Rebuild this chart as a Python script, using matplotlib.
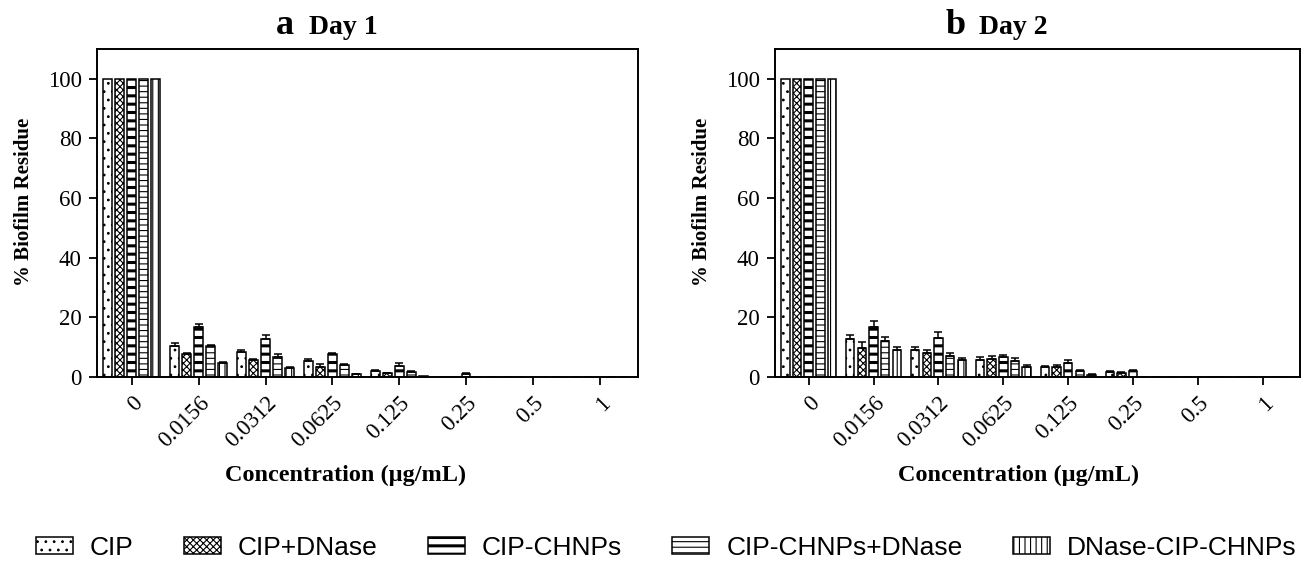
import matplotlib.pyplot as plt
from matplotlib.patches import Patch
import numpy as np

plt.rcParams["hatch.linewidth"] = 0.8

concentrations = ["0", "0.0156", "0.0312", "0.0625", "0.125", "0.25", "0.5", "1"]
groups = ["CIP", "CIP+DNase", "CIP-CHNPs", "CIP-CHNPs+DNase", "DNase-CIP-CHNPs"]

# Day 1 values (% biofilm residue) and upper error
day1_cip = [100, 10.3, 8.5, 5.4, 2.0, 0, 0, 0]
day1_cip_dnase = [100, 7.6, 5.7, 3.5, 1.3, 0, 0, 0]
day1_chnps = [100, 16.8, 12.8, 7.6, 3.7, 1.0, 0, 0]
day1_chnps_dnase = [100, 10.4, 6.7, 4.0, 1.7, 0, 0, 0]
day1_dnase_chnps = [100, 4.8, 3.0, 0.9, 0.4, 0, 0, 0]

day1_err_cip = [0, 1.0, 0.6, 0.6, 0.3, 0, 0, 0]
day1_err_cip_dnase = [0, 0.4, 0.4, 1.0, 0.2, 0, 0, 0]
day1_err_chnps = [0, 1.1, 1.3, 0.4, 0.9, 0.2, 0, 0]
day1_err_chnps_dnase = [0, 0.3, 1.0, 0.5, 0.2, 0, 0, 0]
day1_err_dnase_chnps = [0, 0.2, 0.2, 0.1, 0, 0, 0, 0]

# Day 2
day2_cip = [100, 12.9, 9.0, 5.8, 3.2, 1.8, 0, 0]
day2_cip_dnase = [100, 9.7, 8.0, 6.0, 3.3, 1.5, 0, 0]
day2_chnps = [100, 16.8, 13.0, 6.7, 4.7, 2.0, 0, 0]
day2_chnps_dnase = [100, 12.2, 6.9, 5.5, 2.0, 0, 0, 0]
day2_dnase_chnps = [100, 9.0, 5.8, 3.3, 0.8, 0, 0, 0]

day2_err_cip = [0, 1.3, 1.1, 0.8, 0.6, 0.3, 0, 0]
day2_err_cip_dnase = [0, 1.9, 1.1, 0.9, 0.7, 0.3, 0, 0]
day2_err_chnps = [0, 2.1, 2.1, 0.6, 1.0, 0.4, 0, 0]
day2_err_chnps_dnase = [0, 1.2, 1.2, 0.9, 0.3, 0, 0, 0]
day2_err_dnase_chnps = [0, 1.0, 0.7, 0.7, 0.2, 0, 0, 0]

hatches = ["..", "xxxxx", "--", "---", "|||"]
hatch_lw = [0.8, 0.8, 2.2, 0.8, 0.8]

serif = ["Liberation Serif", "DejaVu Serif"]
sans = ["Liberation Sans", "DejaVu Sans"]


def hatched(artist, i):
    if hasattr(artist, "set_hatch_linewidth"):
        artist.set_hatch_linewidth(hatch_lw[i])


def draw_day(ax, values, errors):
    """bars with upward error bars"""
    x = np.arange(len(concentrations))
    for i, (vals, errs) in enumerate(zip(values, errors)):
        pos = x + (i - 2) * 0.18
        with plt.rc_context({"hatch.linewidth": hatch_lw[i]}):
            bars = ax.bar(pos, vals, width=0.13, color="white",
                          edgecolor="black", linewidth=1.1, hatch=hatches[i],
                          label=groups[i], zorder=2)
        for b in bars:
            hatched(b, i)
        errs = np.array(errs)
        mask = errs > 0
        ax.errorbar(pos[mask], np.array(vals)[mask],
                    yerr=[np.zeros(mask.sum()), errs[mask]],
                    fmt="none", ecolor="black", elinewidth=1.1,
                    capsize=3, capthick=1.1, zorder=3)

    ax.set_xlim(-0.52, 7.57)
    ax.set_ylim(0, 110)
    ax.set_yticks([0, 20, 40, 60, 80, 100])
    ax.set_yticklabels(["0", "20", "40", "60", "80", "100"],
                       family=serif, fontsize=16.5)
    ax.set_xticks(x)
    ax.set_xticklabels(concentrations, rotation=45, ha="right",
                       rotation_mode="anchor", family=serif, fontsize=16.5)
    ax.tick_params(direction="out", length=6, width=1.3, pad=5)
    for s in ax.spines.values():
        s.set_linewidth(1.4)
    ax.set_ylabel("% Biofilm Residue", family=serif, fontsize=15,
                  fontweight="bold", labelpad=10)
    ax.yaxis.label.set_y(0.535)


fig = plt.figure(figsize=(13.09, 5.63), dpi=100)
ax1 = fig.add_axes([0.0741, 0.3304, 0.4133, 0.5826])
ax2 = fig.add_axes([0.592, 0.3304, 0.401, 0.5826])

draw_day(
    ax1,
    [day1_cip, day1_cip_dnase, day1_chnps, day1_chnps_dnase, day1_dnase_chnps],
    [day1_err_cip, day1_err_cip_dnase, day1_err_chnps, day1_err_chnps_dnase,
     day1_err_dnase_chnps],
)
draw_day(
    ax2,
    [day2_cip, day2_cip_dnase, day2_chnps, day2_chnps_dnase, day2_dnase_chnps],
    [day2_err_cip, day2_err_cip_dnase, day2_err_chnps, day2_err_chnps_dnase,
     day2_err_dnase_chnps],
)

# panel titles
fig.text(0.2245, 0.9396, "a", family=serif, fontsize=26, fontweight="bold",
         ha="right", va="baseline")
fig.text(0.236, 0.9396, "Day 1", family=serif, fontsize=20, fontweight="bold",
         ha="left", va="baseline")
fig.text(0.7375, 0.9396, "b", family=serif, fontsize=26, fontweight="bold",
         ha="right", va="baseline")
fig.text(0.748, 0.9396, "Day 2", family=serif, fontsize=20, fontweight="bold",
         ha="left", va="baseline")

fig.text(0.264, 0.155, "Concentration (\u00b5g/mL)", family=serif,
         fontsize=17.5, fontweight="bold", ha="center", va="center")
fig.text(0.778, 0.155, "Concentration (\u00b5g/mL)", family=serif,
         fontsize=17.5, fontweight="bold", ha="center", va="center")

handles = [Patch(facecolor="white", edgecolor="black", linewidth=1.1,
                 hatch=hatches[i], label=name) for i, name in enumerate(groups)]

leg = fig.legend(handles=handles, loc="center", bbox_to_anchor=(0.509, 0.027),
                 ncol=5, frameon=False, prop={"family": sans, "size": 19},
                 handlelength=1.4, handleheight=0.65, columnspacing=1.9,
                 handletextpad=0.65)
for i, p in enumerate(leg.get_patches()):
    hatched(p, i)

fig.savefig("out.png", dpi=100)
